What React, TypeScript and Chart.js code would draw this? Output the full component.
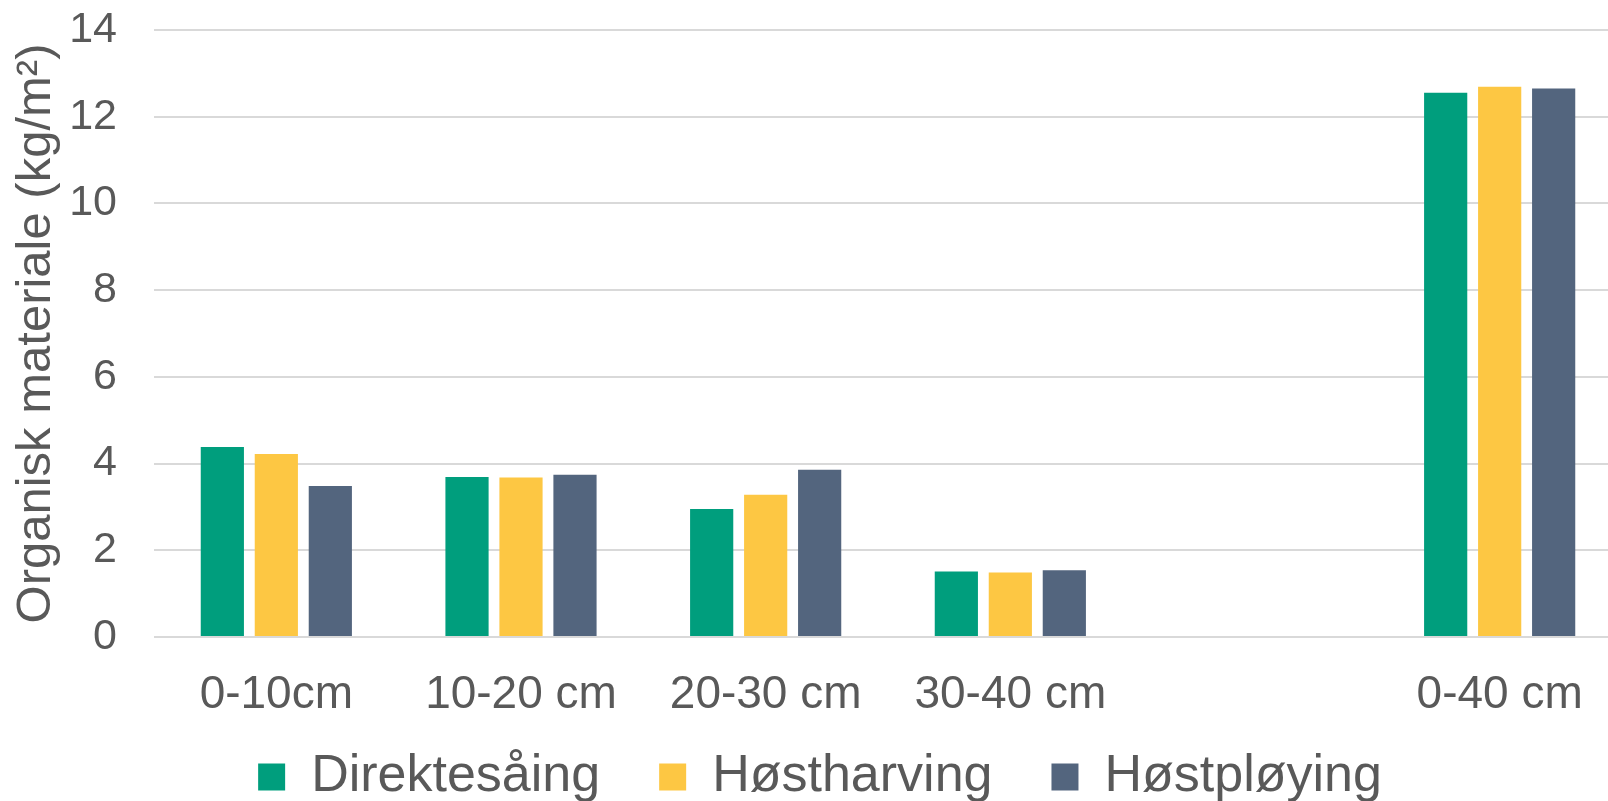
import React, { useEffect, useRef } from "react";
import { Chart, registerables } from "chart.js";

Chart.register(...registerables);

const categories = ["0-10cm", "10-20 cm", "20-30 cm", "30-40 cm", "", "0-40 cm"];
const seriesNames = ["Direktesåing", "Høstharving", "Høstpløying"];
const direktesaaing = [4.38, 3.69, 2.95, 1.51, null, 12.55];
const hostharving = [4.22, 3.68, 3.28, 1.49, null, 12.69];
const hostploying = [3.48, 3.74, 3.86, 1.54, null, 12.65];
const seriesColors = ["#009E7D", "#FDC743", "#53657E"];
const yTitle = "Organisk materiale (kg/m²)";

const FONT = "'Liberation Sans', Arial, sans-serif";
const TEXT = "#595959";

export default function App() {
  const ref = useRef<HTMLCanvasElement | null>(null);

  useEffect(() => {
    const canvas = ref.current;
    if (!canvas) return;
    const layoutTweak = {
      id: "layoutTweak",
      afterLayout(chart: any) {
        if (chart.legend) {
          chart.legend.left += 9;
          chart.legend.right += 9;
          chart.legend.top += 4;
          chart.legend.bottom += 4;
        }
        const xs = chart.scales.x;
        if (xs) {
          xs.bottom = chart.height;
          xs.height = xs.bottom - xs.top;
        }
      },
    };
    const values = [direktesaaing, hostharving, hostploying];
    const chart = new Chart(canvas, {
      type: "bar",
      data: {
        labels: categories,
        datasets: seriesNames.map((name, i) => ({
          label: name,
          data: values[i] as any,
          backgroundColor: seriesColors[i],
          borderWidth: 0,
          categoryPercentage: 0.662,
          barPercentage: 0.8,
        })),
      },
      options: {
        responsive: false,
        animation: false,
        devicePixelRatio: 1,
        layout: { padding: { top: 30, right: 10, bottom: 3, left: 0 } },
        plugins: {
          tooltip: { enabled: false },
          legend: {
            position: "bottom",
            labels: {
              boxWidth: 27,
              boxHeight: 27,
              padding: 59,
              color: TEXT,
              font: { family: FONT, size: 52 },
            },
          },
        },
        scales: {
          x: {
            grid: { display: false, drawTicks: false },
            border: { display: false },
            ticks: {
              color: TEXT,
              font: { family: FONT, size: 46 },
              padding: 31,
              maxRotation: 0,
              autoSkip: false,
            },
            afterFit(scale: any) {
              scale.height = 51;
            },
          },
          y: {
            min: 0,
            max: 14,
            grid: { color: "#D9D9D9", lineWidth: 2, drawTicks: false },
            border: { display: false },
            ticks: {
              stepSize: 2,
              color: TEXT,
              font: { family: FONT, size: 43 },
              padding: 37,
            },
            title: {
              display: true,
              text: yTitle,
              color: TEXT,
              font: { family: FONT, size: 49 },
              padding: { top: 7, bottom: 0 },
            },
            afterFit(scale: any) {
              scale.width = 154;
              scale.paddingTop = 0;
              scale.paddingBottom = 0;
            },
          },
        },
      },
      plugins: [layoutTweak],
    });
    return () => chart.destroy();
  }, []);

  return (
    <div
      style={{
        position: "fixed",
        left: 0,
        top: 0,
        width: 1608,
        height: 801,
        overflow: "hidden",
        background: "#ffffff",
      }}
    >
      <canvas ref={ref} width={1632} height={812} style={{ display: "block" }} />
    </div>
  );
}
